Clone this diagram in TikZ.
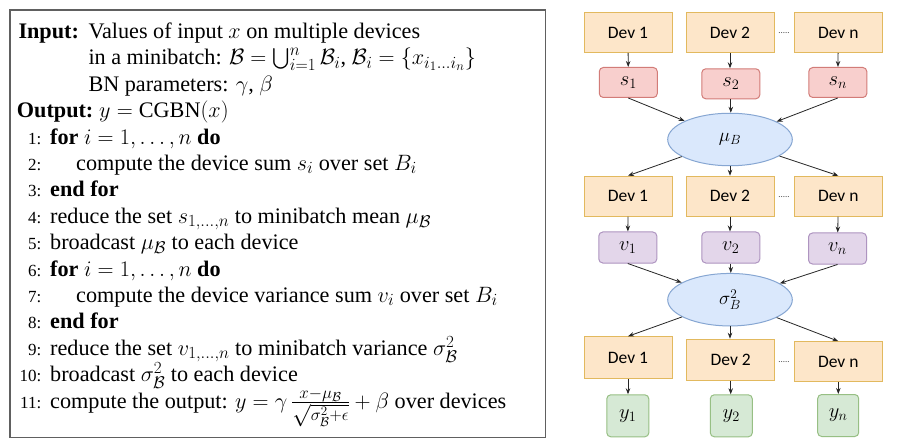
\RequirePackage{fix-cm}
\documentclass[tikz,border=0pt]{standalone}
\usepackage{amsmath}
\usepackage{fontspec}
\setmainfont{Liberation Serif}
\newfontfamily\devfont{Carlito}
\DeclareMathSizes{22.2}{22.2}{17}{13}
\usetikzlibrary{arrows.meta,shapes.geometric}
\definecolor{devfill}{HTML}{FDE6C9}
\definecolor{devdraw}{HTML}{E2B95E}
\definecolor{sfill}{HTML}{F8CFCD}
\definecolor{sdraw}{HTML}{D27C78}
\definecolor{vfill}{HTML}{E3D6EA}
\definecolor{vdraw}{HTML}{AE94C0}
\definecolor{efill}{HTML}{DAE8FC}
\definecolor{edraw}{HTML}{86A6D2}
\definecolor{yfill}{HTML}{D6E9D5}
\definecolor{ydraw}{HTML}{97BF84}
\definecolor{boxdraw}{HTML}{606060}
\begin{document}
\begin{tikzpicture}[x=1pt,y=-1pt,
  alg/.style={anchor=base west,inner sep=0pt,font=\fontsize{22.2}{26}\selectfont},
  num/.style={anchor=base east,inner sep=0pt,font=\fontsize{17}{20}\selectfont},
  dev/.style={draw=devdraw,fill=devfill,line width=1pt,minimum width=88pt,minimum height=40pt,inner sep=0pt,font=\devfont\fontsize{17.5}{20}\selectfont},
  sbox/.style={draw=sdraw,fill=sfill,line width=1pt,rounded corners=4pt,minimum width=58pt,minimum height=30pt,inner sep=0pt,font=\fontsize{20.5}{22}\selectfont},
  vbox/.style={sbox,draw=vdraw,fill=vfill,minimum height=31pt},
  ybox/.style={sbox,draw=ydraw,fill=yfill,minimum width=42pt,minimum height=42pt},
  ell/.style={ellipse,draw=edraw,fill=efill,line width=1pt,minimum width=124.6pt,minimum height=52.5pt,inner sep=0pt,font=\fontsize{19}{21}\selectfont},
  dotsty/.style={inner sep=0pt,text=black!70,font=\devfont\fontsize{9}{10}\selectfont},
  arr/.style={-{Stealth[length=6pt,width=4.5pt]},line width=0.8pt,draw=black!85}]
\useasboundingbox (0,0) rectangle (912,446);
\fill[white] (0,0) rectangle (912,446);
% algorithm box
\node[draw=boxdraw,line width=1.2pt,minimum width=535.7pt,minimum height=427.7pt,inner sep=0pt] (algbox) at (277.85,223.85) {};
\node[alg] (inp) at (18.3,38.5) {\textbf{Input:}};
\node[alg] (inp1) at (88.3,38.5) {Values of input $x$ on multiple devices};
\node[alg] (inp2) at (88.3,64.9) {in a minibatch: $\mathcal{B}=\bigcup_{i=1}^{n}\mathcal{B}_i$, $\mathcal{B}_i=\{x_{i_1\ldots i_n}\}$};
\node[alg] (inp3) at (88.3,91.3) {BN parameters: $\gamma$, $\beta$};
\node[alg] (outp) at (16.7,117.7) {\textbf{Output:}};
\node[alg] (outp1) at (99,117.7) {$y=\mathrm{CGBN}(x)$};
\node[num] (n1) at (41.5,144.1) {1:};
\node[alg] (l1) at (50,144.1) {\textbf{for} $i=1,\ldots,n$ \textbf{do}};
\node[num] (n2) at (41.5,170.5) {2:};
\node[alg] (l2) at (76,170.5) {compute the device sum $s_i$ over set $B_i$};
\node[num] (n3) at (41.5,196.9) {3:};
\node[alg] (l3) at (50,196.9) {\textbf{end for}};
\node[num] (n4) at (41.5,223.3) {4:};
\node[alg] (l4) at (50,223.3) {reduce the set $s_{1,\ldots,n}$ to minibatch mean $\mu_{\mathcal{B}}$};
\node[num] (n5) at (41.5,249.7) {5:};
\node[alg] (l5) at (50,249.7) {broadcast $\mu_{\mathcal{B}}$ to each device};
\node[num] (n6) at (41.5,276.1) {6:};
\node[alg] (l6) at (50,276.1) {\textbf{for} $i=1,\ldots,n$ \textbf{do}};
\node[num] (n7) at (41.5,302.5) {7:};
\node[alg] (l7) at (76,302.5) {compute the device variance sum $v_i$ over set $B_i$};
\node[num] (n8) at (41.5,328.9) {8:};
\node[alg] (l8) at (50,328.9) {\textbf{end for}};
\node[num] (n9) at (41.5,355.3) {9:};
\node[alg] (l9) at (50,355.3) {reduce the set $v_{1,\ldots,n}$ to minibatch variance $\sigma^2_{\mathcal{B}}$};
\node[num] (n10) at (41.5,381.7) {10:};
\node[alg] (l10) at (50,381.7) {broadcast $\sigma^2_{\mathcal{B}}$ to each device};
\node[num] (n11) at (41.5,408.1) {11:};
\node[alg] (l11) at (50,408.1) {compute the output: $y=\gamma\,\frac{x-\mu_{\mathcal{B}}}{\sqrt{\sigma^2_{\mathcal{B}}+\epsilon}}+\beta$ over devices};
% right diagram
\node[dev] (da1) at (628,32.5) {Dev 1};
\node[dev] (da2) at (730,32.5) {Dev 2};
\node[dev] (dan) at (838.3,32.5) {Dev n};
\node[dotsty] (dotsa) at (784,33) {.....};
\node[sbox] (s1) at (628.3,82.5) {$s_1$};
\node[sbox] (s2) at (730.8,83.8) {$s_2$};
\node[sbox] (sn) at (837.8,82.5) {$s_n$};
\node[ell] (mu) at (730,139.5) {$\mu_B$};
\node[dev] (db1) at (628,196.2) {Dev 1};
\node[dev] (db2) at (730,196.2) {Dev 2};
\node[dev] (dbn) at (838.3,196.2) {Dev n};
\node[dotsty] (dotsb) at (784,196.7) {.....};
\node[vbox] (v1) at (627.8,247.5) {$v_1$};
\node[vbox] (v2) at (730.8,247.5) {$v_2$};
\node[vbox] (vn) at (837.5,248.5) {$v_n$};
\node[ell] (sig) at (730,299.7) {$\sigma_B^2$};
\node[dev,minimum height=42pt] (dc1) at (628,357.8) {Dev 1};
\node[dev,minimum height=41pt] (dc2) at (730.7,359.7) {Dev 2};
\node[dev] (dcn) at (838.3,361.7) {Dev n};
\node[dotsty] (dotsc) at (784,361.7) {.....};
\node[ybox] (y1) at (627.8,415.8) {$y_1$};
\node[ybox] (y2) at (731.3,415.8) {$y_2$};
\node[ybox,minimum width=41pt] (yn) at (838.2,415.5) {$y_n$};
% connectors
\draw[arr] (da1) -- (s1);
\draw[arr] (da2.south) -- (da2.south |- s2.north);
\draw[arr] (dan) -- (sn);
\draw[arr] (s1.south) -- (mu);
\draw[arr] (s2.south) -- (mu.north -| s2.south);
\draw[arr] (sn.south) -- (mu);
\draw[arr] (mu) -- (db1.north);
\draw[arr] (mu.south) -- (db2.north);
\draw[arr] (mu) -- (dbn.north);
\draw[arr] (db1) -- (v1);
\draw[arr] (db2.south) -- (db2.south |- v2.north);
\draw[arr] (dbn) -- (vn);
\draw[arr] (v1.south) -- (sig);
\draw[arr] (v2.south) -- (sig.north -| v2.south);
\draw[arr] (vn.south) -- (sig);
\draw[arr] (sig) -- (dc1.north);
\draw[arr] (sig.south) -- (sig.south |- dc2.north);
\draw[arr] (sig) -- (dcn.north);
\draw[arr] (dc1.south) -- (dc1.south |- y1.north);
\draw[arr] (dc2.south) -- (dc2.south |- y2.north);
\draw[arr] (dcn.south) -- (dcn.south |- yn.north);
\end{tikzpicture}
\end{document}
